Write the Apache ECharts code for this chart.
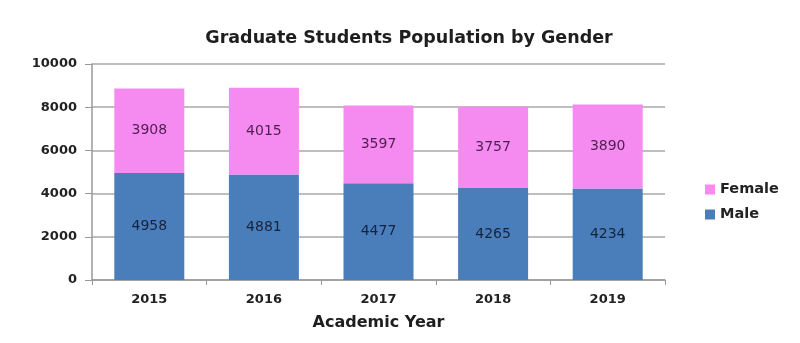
<!DOCTYPE html>
<html><head><meta charset="utf-8">
<script src="https://cdn.jsdelivr.net/npm/echarts@6/dist/echarts.min.js"></script>
<style>html,body{margin:0;padding:0;background:#fff}#c{width:800px;height:343px}</style>
</head><body><div id="c"></div>
<script>
const years = ['2015', '2016', '2017', '2018', '2019'];
const male = [4958, 4881, 4477, 4265, 4234];
const female = [3908, 4015, 3597, 3757, 3890];
const yTicks = [0, 2000, 4000, 6000, 8000, 10000];

const chart = echarts.init(document.getElementById('c'));
chart.setOption({
  animation: false,
  backgroundColor: '#fff',
  title: {
    text: 'Graduate Students Population by Gender',
    left: 404, top: 24, textAlign: 'center',
    textStyle: {fontFamily: 'DejaVu Sans', fontWeight: 'bold', fontSize: 17.5, color: '#1e1e1e'}
  },
  legend: {
    data: ['Female', 'Male'], orient: 'vertical', left: 700, top: 177,
    itemWidth: 10, itemHeight: 10, itemGap: 10,
    icon: 'rect',
    textStyle: {fontFamily: 'DejaVu Sans', fontWeight: 'bold', fontSize: 14.5, color: '#222'}
  },
  grid: {left: 92, right: 135, top: 64, bottom: 63},
  xAxis: {
    type: 'category', data: years,
    name: 'Academic Year', nameLocation: 'middle', nameGap: 35,
    nameTextStyle: {fontFamily: 'DejaVu Sans', fontWeight: 'bold', fontSize: 16, color: '#1e1e1e'},
    axisLine: {lineStyle: {color: '#999', width: 1.5}},
    axisTick: {show: true, length: 5, lineStyle: {color: '#999'}},
    axisLabel: {fontFamily: 'DejaVu Sans', fontWeight: 'bold', fontSize: 13, color: '#222', margin: 13}
  },
  yAxis: {
    type: 'value', min: yTicks[0], max: yTicks[yTicks.length - 1], interval: 2000,
    axisLine: {show: true, lineStyle: {color: '#999', width: 1.5}},
    axisTick: {show: true, length: 7, lineStyle: {color: '#999'}},
    splitLine: {lineStyle: {color: '#a8a8a8', width: 1.5}},
    axisLabel: {fontFamily: 'DejaVu Sans', fontWeight: 'bold', fontSize: 13, color: '#222', margin: 15,
      formatter: v => String(v)}
  },
  series: [
    {
      name: 'Male', type: 'bar', stack: 'g', data: male, barWidth: 70,
      itemStyle: {color: '#4A7EBB'},
      label: {show: true, position: 'inside', fontFamily: 'DejaVu Sans', fontSize: 14, color: '#15233d'}
    },
    {
      name: 'Female', type: 'bar', stack: 'g', data: female, barWidth: 70,
      itemStyle: {color: '#F58AF0'},
      label: {show: true, position: 'inside', fontFamily: 'DejaVu Sans', fontSize: 14, color: '#4e1f4e'}
    }
  ]
});
</script></body></html>
